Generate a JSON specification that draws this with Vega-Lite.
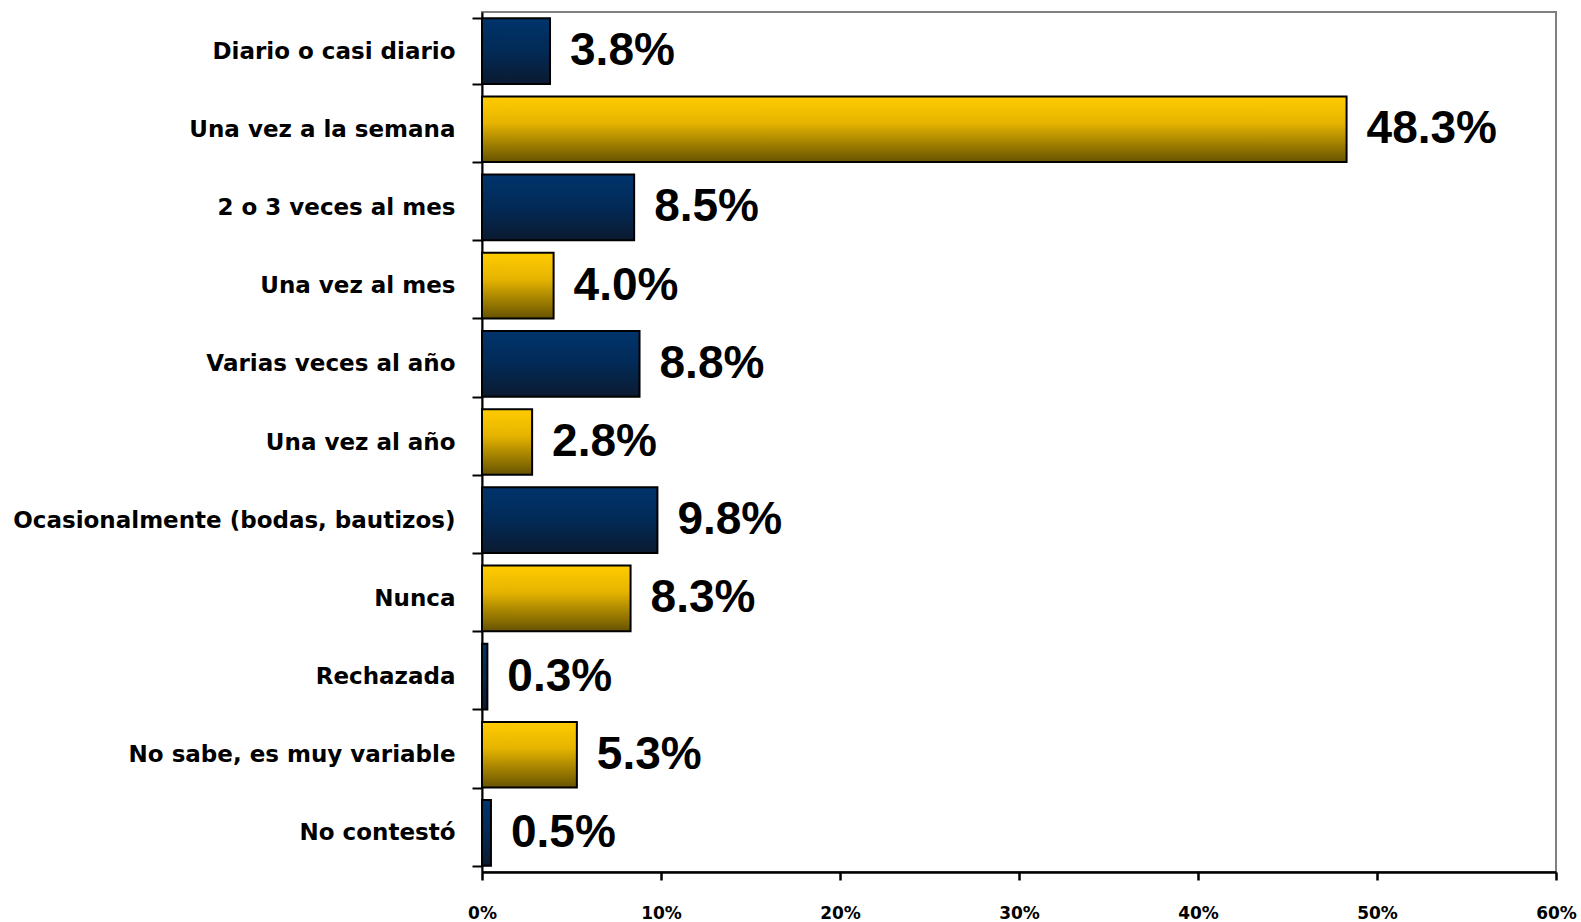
{
  "$schema": "https://vega.github.io/schema/vega-lite/v6.json",
  "width": 1074,
  "height": 860,
  "autosize": {"type": "none"},
  "padding": {"left": 482, "top": 12, "right": 25, "bottom": 50},
  "background": "white",
  "config": {
    "view": {"stroke": "#808080", "strokeWidth": 2},
    "axis": {"grid": false, "domainColor": "black", "tickColor": "black", "labelColor": "black", "labelFont": "DejaVu Sans", "labelFontWeight": "bold"}
  },
  "data": {
    "values": [
      {"cat": "Diario o casi diario", "v": 0.038, "g": "azul"},
      {"cat": "Una vez a la semana", "v": 0.483, "g": "oro"},
      {"cat": "2 o 3 veces al mes", "v": 0.085, "g": "azul"},
      {"cat": "Una vez al mes", "v": 0.040, "g": "oro"},
      {"cat": "Varias veces al año", "v": 0.088, "g": "azul"},
      {"cat": "Una vez al año", "v": 0.028, "g": "oro"},
      {"cat": "Ocasionalmente (bodas, bautizos)", "v": 0.098, "g": "azul"},
      {"cat": "Nunca", "v": 0.083, "g": "oro"},
      {"cat": "Rechazada", "v": 0.003, "g": "azul"},
      {"cat": "No sabe, es muy variable", "v": 0.053, "g": "oro"},
      {"cat": "No contestó", "v": 0.005, "g": "azul"}
    ]
  },
  "encoding": {
    "y": {
      "field": "cat", "type": "nominal",
      "sort": ["Diario o casi diario", "Una vez a la semana", "2 o 3 veces al mes", "Una vez al mes", "Varias veces al año", "Una vez al año", "Ocasionalmente (bodas, bautizos)", "Nunca", "Rechazada", "No sabe, es muy variable", "No contestó"],
      "scale": {"paddingInner": 0.16, "paddingOuter": 0.08},
      "axis": {"title": null, "tickBand": "extent", "tickSize": 10, "labelPadding": 17, "labelFontSize": 23, "domainWidth": 2, "tickWidth": 2, "labelLimit": 480}
    },
    "x": {
      "field": "v", "type": "quantitative",
      "scale": {"domain": [0, 0.6], "nice": false},
      "axis": {"title": null, "values": [0, 0.1, 0.2, 0.3, 0.4, 0.5, 0.6], "format": ".0%", "labelFlush": false, "tickSize": 8, "labelPadding": 25, "labelFontSize": 17, "domainWidth": 2.5, "tickWidth": 2.5}
    }
  },
  "layer": [
    {
      "transform": [{"filter": "datum.g === 'azul'"}],
      "mark": {
        "type": "bar", "stroke": "black", "strokeWidth": 2,
        "fill": {"gradient": "linear", "x1": 0, "y1": 0, "x2": 0, "y2": 1, "stops": [{"offset": 0, "color": "#00346C"}, {"offset": 0.5, "color": "#022a56"}, {"offset": 1, "color": "#0B1A30"}]}
      }
    },
    {
      "transform": [{"filter": "datum.g === 'oro'"}],
      "mark": {
        "type": "bar", "stroke": "black", "strokeWidth": 2,
        "fill": {"gradient": "linear", "x1": 0, "y1": 0, "x2": 0, "y2": 1, "stops": [{"offset": 0, "color": "#FFCC00"}, {"offset": 0.4, "color": "#E6B400"}, {"offset": 1, "color": "#665300"}]}
      }
    },
    {
      "mark": {"type": "text", "align": "left", "baseline": "middle", "dx": 20, "font": "Liberation Sans", "fontWeight": "bold", "fontSize": 46, "color": "black"},
      "encoding": {"text": {"field": "v", "type": "quantitative", "format": ".1%"}}
    }
  ]
}
